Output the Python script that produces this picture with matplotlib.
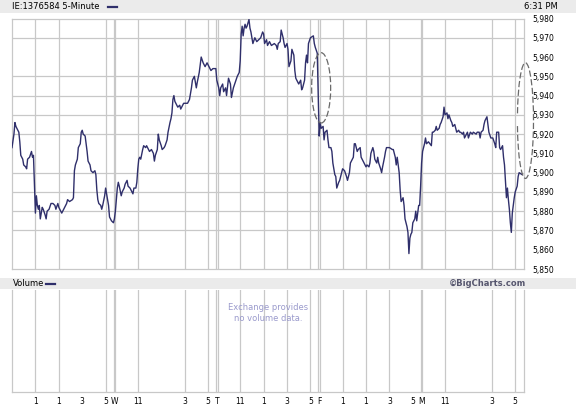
import matplotlib
matplotlib.use("Agg")
import matplotlib.pyplot as plt
import numpy as np
from matplotlib.patches import Ellipse, Arc, Rectangle
from matplotlib.lines import Line2D

# 5-minute bars since the first open (105 bars per session)
bars = [0, 2, 3, 4, 6, 7, 8, 9, 11, 12, 14, 15, 16, 18, 20, 21, 22, 23, 24, 25,
        26, 27, 28, 29, 31, 32, 34, 35, 36, 38, 40, 42, 44, 45, 47, 48, 50, 51, 53, 54,
        56, 57, 59, 62, 63, 64, 65, 67, 68, 70, 71, 72, 73, 75, 76, 77, 78, 80, 81, 83,
        85, 86, 87, 88, 89, 91, 92, 93, 95, 96, 97, 98, 99, 100, 102, 104, 105, 106, 107, 108,
        109, 110, 112, 113, 115, 116, 118, 119, 121, 122, 124, 125, 127, 128, 129, 130, 131, 132, 134, 135,
        137, 138, 140, 141, 143, 145, 146, 147, 149, 150, 151, 153, 154, 156, 157, 159, 160, 162, 163, 164,
        165, 166, 167, 169, 170, 172, 173, 175, 176, 178, 180, 182, 184, 185, 187, 189, 190, 192, 194, 196,
        198, 200, 202, 204, 206, 209, 210, 212, 213, 214, 216, 217, 219, 220, 222, 224, 225, 227, 229, 231,
        233, 234, 235, 236, 237, 238, 239, 240, 241, 243, 244, 245, 246, 247, 249, 251, 253, 255, 257, 258,
        259, 261, 262, 264, 266, 269, 271, 272, 273, 275, 276, 278, 279, 280, 282, 283, 284, 286, 287, 289,
        290, 291, 293, 294, 296, 297, 298, 300, 301, 302, 303, 304, 306, 309, 310, 311, 313, 314, 315, 316,
        317, 319, 320, 321, 323, 324, 325, 327, 328, 329, 331, 332, 333, 335, 336, 338, 339, 341, 343, 344,
        346, 347, 350, 351, 352, 354, 355, 357, 358, 359, 360, 362, 363, 364, 366, 367, 368, 370, 371, 372,
        374, 375, 376, 378, 379, 380, 382, 383, 384, 386, 387, 390, 391, 393, 394, 395, 397, 398, 399, 401,
        402, 403, 405, 406, 407, 408, 409, 410, 411, 413, 414, 415, 417, 418, 419, 420, 421, 423, 424, 425,
        427, 430, 431, 432, 434, 435, 436, 438, 439, 440, 442, 443, 444, 446, 447, 448, 450, 451, 452, 454,
        455, 456, 458, 459, 460, 462, 463, 464, 466, 467, 468, 470, 472, 473, 476, 477, 479, 480, 481, 483,
        484, 485, 487, 488, 489, 491, 493, 495, 496, 497, 499, 500, 501, 503, 504, 505, 506, 507, 508, 509,
        510, 511, 512, 513, 514, 515, 516, 518, 519, 520, 523]

price = [5913, 5920, 5926, 5924, 5922, 5921, 5916, 5909, 5907, 5904, 5903, 5902, 5907, 5908, 5911, 5908, 5909, 5894, 5879, 5888,
         5883, 5881, 5883, 5876, 5882, 5881, 5878, 5876, 5880, 5881, 5884, 5884, 5883, 5881, 5884, 5882, 5880, 5879, 5881, 5882,
         5884, 5886, 5885, 5886, 5887, 5901, 5904, 5907, 5913, 5915, 5921, 5922, 5920, 5919, 5915, 5911, 5906, 5904, 5901, 5900,
         5901, 5899, 5891, 5886, 5884, 5883, 5881, 5883, 5888, 5892, 5889, 5886, 5883, 5877, 5875, 5874, 5876, 5880, 5886, 5892,
         5895, 5893, 5888, 5890, 5892, 5894, 5896, 5893, 5892, 5891, 5889, 5892, 5892, 5895, 5902, 5907, 5908, 5907, 5912, 5914,
         5913, 5914, 5912, 5911, 5912, 5910, 5906, 5909, 5912, 5920, 5917, 5914, 5912, 5913, 5914, 5917, 5921, 5926, 5928, 5931,
         5938, 5940, 5937, 5935, 5934, 5935, 5933, 5935, 5936, 5936, 5936, 5938, 5944, 5948, 5950, 5944, 5947, 5952, 5960, 5957,
         5955, 5957, 5955, 5953, 5954, 5954, 5948, 5944, 5940, 5944, 5946, 5942, 5944, 5940, 5949, 5946, 5939, 5944, 5947, 5950,
         5952, 5958, 5972, 5976, 5971, 5975, 5977, 5975, 5976, 5979.5, 5975, 5973, 5970, 5967, 5970, 5968, 5969, 5970, 5973, 5972,
         5967, 5969, 5966, 5968, 5966, 5967, 5966, 5964, 5967, 5968, 5974, 5970, 5967, 5965, 5967, 5964, 5955, 5958, 5964, 5961,
         5953, 5949, 5947, 5946, 5948, 5943, 5944, 5948, 5957, 5961, 5957, 5967, 5970, 5971, 5967, 5965, 5962, 5940, 5919, 5926,
         5923, 5924, 5917, 5921, 5922, 5917, 5913, 5913, 5911, 5905, 5899, 5898, 5892, 5895, 5896, 5900, 5902, 5901, 5898, 5896,
         5900, 5905, 5908, 5915, 5915, 5911, 5912, 5913, 5908, 5907, 5906, 5904, 5903, 5904, 5903, 5905, 5910, 5913, 5911, 5907,
         5905, 5908, 5905, 5902, 5900, 5903, 5908, 5911, 5913, 5913, 5913, 5912, 5912, 5908, 5904, 5908, 5900, 5891, 5885, 5887,
         5883, 5876, 5872, 5869, 5858, 5866, 5868, 5869, 5874, 5876, 5880, 5875, 5883, 5883, 5893, 5905, 5911, 5915, 5918, 5915,
         5916, 5914, 5921, 5921, 5922, 5924, 5922, 5923, 5925, 5926, 5929, 5934, 5930, 5931, 5928, 5930, 5927, 5926, 5924, 5925,
         5923, 5921, 5922, 5921, 5921, 5920, 5921, 5918, 5920, 5921, 5918, 5921, 5920, 5921, 5920, 5921, 5921, 5918, 5921, 5922,
         5925, 5927, 5929, 5925, 5921, 5918, 5918, 5915, 5913, 5921, 5921, 5913, 5912, 5914, 5908, 5904, 5895, 5887, 5892, 5886,
         5881, 5874, 5869, 5879, 5883, 5887, 5890, 5893, 5898, 5900, 5899]

y_ticks = [5850, 5860, 5870, 5880, 5890, 5900, 5910, 5920, 5930, 5940, 5950, 5960, 5970, 5980]
y_grid = [5870, 5880, 5890, 5900, 5920, 5930, 5940, 5950, 5970]

day_starts = [105, 210, 315, 420]
x_ticks = [24, 48, 72, 96, 105, 129, 177, 201, 210, 234, 258, 282, 306, 315,
           339, 363, 387, 411, 420, 444, 492, 516]
x_labels = ["1", "1", "3", "5", "W", "11", "3", "5", "T", "11", "1", "3", "5", "F",
            "1", "1", "3", "5", "M", "11", "3", "5"]
x_grid = [24, 48, 96, 129, 177, 201, 234, 258, 282, 306, 339, 363, 387, 444, 492, 516]

line_col = "#2f2f6b"
grid_col = "#c8c8c8"
band_col = "#ebebeb"

fig = plt.figure(figsize=(5.76, 4.08), dpi=100)
W, H = 576.0, 408.0

# grey title bands
fig.add_artist(Rectangle((0, 1 - 12.7 / H), 1, 12.7 / H, transform=fig.transFigure,
                         facecolor=band_col, edgecolor="none", zorder=0))
fig.add_artist(Rectangle((0, 1 - 289 / H), 1, 11.5 / H, transform=fig.transFigure,
                         facecolor=band_col, edgecolor="none", zorder=0))

fig.text(12.5 / W, 1 - 6.5 / H, "IE:1376584 5-Minute", fontsize=6, va="center", ha="left")
fig.add_artist(Line2D([108 / W, 117 / W], [1 - 6.5 / H] * 2, transform=fig.transFigure,
                      color=line_col, lw=1.6))
fig.text(558 / W, 1 - 6.5 / H, "6:31 PM", fontsize=6, va="center", ha="right")

fig.text(12.5 / W, 1 - 283.5 / H, "Volume", fontsize=6, va="center", ha="left")
fig.add_artist(Line2D([46 / W, 55 / W], [1 - 283.5 / H] * 2, transform=fig.transFigure,
                      color=line_col, lw=1.6))
fig.text(526 / W, 1 - 283.5 / H, "\u00a9BigCharts.com", fontsize=6, fontweight="bold",
         color="#56566e", va="center", ha="right")

# price panel
ax = fig.add_axes([12 / W, 1 - 269 / H, 512 / W, 250.5 / H])
ax.set_xlim(0, 525)
ax.set_ylim(5850, 5980)
for v in y_grid:
    ax.axhline(v, color=grid_col, lw=0.9, zorder=1)
for v in x_grid:
    ax.axvline(v, color=grid_col, lw=0.9, zorder=1)
for d in day_starts:
    ax.axvline(d - 0.9, color=grid_col, lw=0.9, zorder=1)
    ax.axvline(d + 0.9, color=grid_col, lw=0.9, zorder=1)
ax.plot(bars, price, color=line_col, lw=1.0, zorder=3)

# hand-drawn style markers
ax.add_patch(Ellipse((317, 5944), 19.5, 36.5, fill=False, ls=(0, (5, 2)),
                     edgecolor="#6a6a6a", lw=0.9, zorder=4))
ax.add_patch(Arc((526.5, 5927), 16.5, 60, theta1=-161, theta2=161, ls=(0, (5, 2)),
                 edgecolor="#6a6a6a", lw=0.9, zorder=4, clip_on=False))

ax.set_yticks(y_ticks)
ax.set_yticklabels([f"{v:,}" for v in y_ticks])
ax.yaxis.tick_right()
ax.tick_params(axis="y", length=0, pad=6, labelsize=5.5)
ax.set_xticks([])
for s in ax.spines.values():
    s.set_color(grid_col)
    s.set_linewidth(0.9)

# volume panel
vax = fig.add_axes([12 / W, 1 - 392 / H, 512 / W, 102.5 / H])
vax.set_xlim(0, 525)
vax.set_ylim(0, 1)
for v in x_grid:
    vax.axvline(v, color=grid_col, lw=0.9)
for d in day_starts:
    vax.axvline(d - 0.9, color=grid_col, lw=0.9)
    vax.axvline(d + 0.9, color=grid_col, lw=0.9)
vax.text(0.5, 0.77, "Exchange provides\nno volume data.", transform=vax.transAxes,
         ha="center", va="center", fontsize=6, color="#9a9acc", linespacing=1.3)
vax.set_yticks([])
vax.set_xticks(x_ticks)
vax.set_xticklabels(x_labels)
vax.tick_params(axis="x", length=0, pad=3.5, labelsize=5.5)
vax.spines["top"].set_visible(False)
for k in ["left", "right", "bottom"]:
    vax.spines[k].set_color(grid_col)
    vax.spines[k].set_linewidth(0.9)

fig.savefig("out.png", dpi=100)
